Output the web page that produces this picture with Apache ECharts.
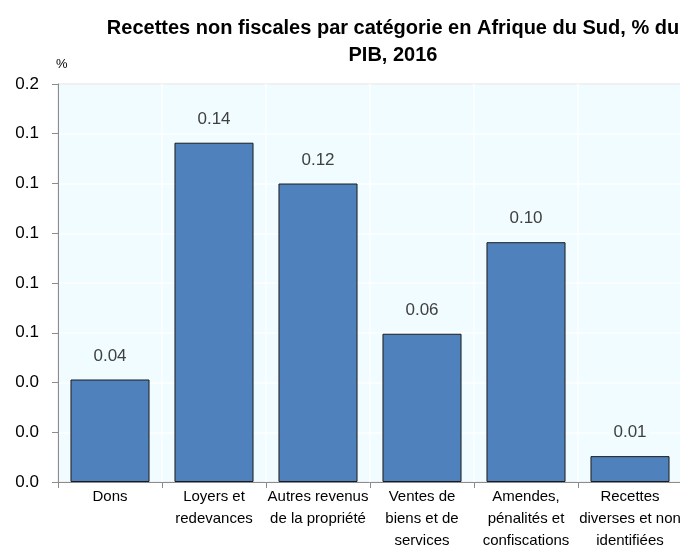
<!DOCTYPE html>
<html>
<head>
<meta charset="utf-8">
<script src="https://cdn.jsdelivr.net/npm/echarts@6/dist/echarts.min.js"></script>
<style>
html,body{margin:0;padding:0;background:#fff;}
#c{width:680px;height:548px;}
</style>
</head>
<body>
<div id="c"></div>
<script>
var categories = ["Dons", "Loyers et\nredevances", "Autres revenus\nde la propriété", "Ventes de\nbiens et de\nservices", "Amendes,\npénalités et\nconfiscations", "Recettes\ndiverses et non\nidentifiées"];
var values = [0.0412, 0.1364, 0.12, 0.0596, 0.0964, 0.0104];
var yMin = 0, yMax = 0.16, yStep = 0.02;
var titleText = "Recettes non fiscales par catégorie en Afrique du Sud, % du\nPIB, 2016";
var unitText = "%";

var FONT = "'Liberation Sans Narrow', 'Liberation Sans', Arial, sans-serif";
var chart = echarts.init(document.getElementById('c'), null, {renderer: 'canvas'});
chart.setOption({
  animation: false,
  backgroundColor: '#ffffff',
  title: [{
    text: titleText,
    left: 388, textAlign: 'center', top: 10,
    textStyle: {fontFamily: "'Liberation Sans', Arial, sans-serif", fontWeight: 'bold', fontSize: 20, color: '#000', lineHeight: 27}
  }, {
    text: unitText, left: 51, top: 53,
    textStyle: {fontFamily: FONT, fontWeight: 'normal', fontSize: 13, color: '#000'}
  }],
  grid: {
    left: 58, top: 84, width: 624, height: 398,
    outerBoundsMode: 'none',
    show: true, backgroundColor: '#f0fcff', borderColor: '#8c8c8c', borderWidth: 1,
    containLabel: false
  },
  xAxis: {
    type: 'category', data: categories,
    axisLine: {lineStyle: {color: '#8c8c8c', width: 1}},
    axisTick: {show: true, alignWithLabel: false, length: 6, lineStyle: {color: '#8c8c8c'}},
    axisLabel: {interval: 0, fontFamily: FONT, fontSize: 15, color: '#000', lineHeight: 22, margin: 4},
    splitLine: {show: true, lineStyle: {color: '#ffffff', width: 1.5}}
  },
  yAxis: {
    type: 'value', min: yMin, max: yMax, interval: yStep,
    axisLine: {show: true, lineStyle: {color: '#8c8c8c', width: 1}},
    axisTick: {show: true, length: 6, lineStyle: {color: '#8c8c8c'}},
    axisLabel: {fontFamily: FONT, fontSize: 17, color: '#000', margin: 19,
      formatter: function (v) { return v.toFixed(1); }},
    splitLine: {show: true, lineStyle: {color: '#ffffff', width: 1.5}}
  },
  series: [{
    type: 'bar', data: values, barCategoryGap: '24%',
    itemStyle: {color: '#4f81bd', borderColor: '#1a1a1a', borderWidth: 1},
    label: {
      show: true, position: 'top', distance: 13,
      fontFamily: FONT, fontSize: 17, color: '#404040',
      backgroundColor: '#f0fcff', padding: [2, 4],
      formatter: function (p) { return p.value.toFixed(2); }
    }
  }]
});
</script>
</body>
</html>
